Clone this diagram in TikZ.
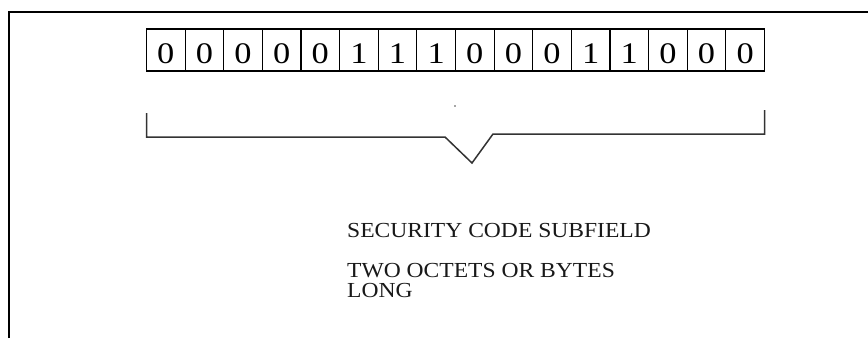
\documentclass[tikz,border=0pt]{standalone}
\usepackage{fontspec}
\setmainfont{Liberation Serif}
\newfontfamily\widserif[FakeStretch=1.1]{Liberation Serif}
\newfontfamily\bitserif[FakeStretch=1.15]{Liberation Serif}
\begin{document}
\begin{tikzpicture}[x=1bp,y=-1bp,
  bitcell/.style={draw=black,line width=1.2bp,minimum width=38.625bp,inner sep=0pt,
    text height=34bp,text depth=8bp,font=\bitserif\fontsize{30}{30}\selectfont},
  frameline/.style={line width=2.4bp,draw=black},
  braceline/.style={line width=1.5bp,draw=black!80,line join=miter},
  caption/.style={font=\widserif\fontsize{21.5}{20}\selectfont,align=left,inner sep=0pt,text=black!90}]
\useasboundingbox (0,0) rectangle (868,338);
\fill[white] (0,0) rectangle (868,338);

% outer frame (open at right and bottom)
\coordinate (fbl) at (9,338);
\coordinate (ftl) at (9,12);
\coordinate (ftr) at (868,12);
\draw[frameline] (fbl) -- (ftl) -- (ftr);

% the sixteen bit cells
\foreach \b [count=\i] in {0,0,0,0,0,1,1,1,0,0,0,1,1,0,0,0}
  \node[bitcell] (c\i) at ({146.5+(\i-0.5)*38.625},50) {\b};

% bracket under the cells
\coordinate (b1) at (146.5,113);
\coordinate (b2) at (146.5,137);
\coordinate (b3) at (445,137);
\coordinate (b4) at (472,163);
\coordinate (b5) at (493,134);
\coordinate (b6) at (764.5,134);
\coordinate (b7) at (764.5,110);
\draw[braceline] (b1) -- (b2) -- (b3) -- (b4) -- (b5) -- (b6) -- (b7);

% small speck above the bracket
\node[circle,fill=black!70,inner sep=0pt,minimum size=1.8bp] (speck) at (455,106) {};

% captions
\node[caption,anchor=base west] (title) at (347,237) {SECURITY CODE SUBFIELD};
\node[caption,anchor=base west] (size) at (347,277) {TWO OCTETS OR BYTES};
\node[caption,anchor=base west] (sizeb) at (347,297) {LONG};
\end{tikzpicture}
\end{document}
